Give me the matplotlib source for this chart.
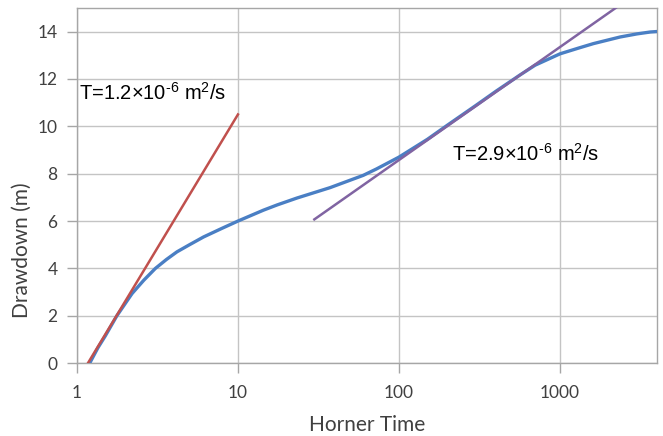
import matplotlib.pyplot as plt
from matplotlib.ticker import FixedLocator, NullLocator

plt.rcParams['mathtext.fontset'] = 'custom'
plt.rcParams['mathtext.rm'] = 'Liberation Sans'
plt.rcParams['mathtext.it'] = 'Liberation Sans'

# -------------------- data --------------------
horner_time = [1.2, 1.35, 1.5, 1.77, 2.2, 2.6, 3.07, 3.6, 4.18, 5.0, 6.12, 8.0, 10,
               14.4, 17.5, 23.2, 37.3, 60, 72.5, 100, 150, 200, 300, 400, 565,
               700, 1000, 1300, 1610, 2360, 3000, 3630, 4000]
drawdown = [0.0, 0.65, 1.15, 2.0, 2.94, 3.5, 4.0, 4.38, 4.7, 5.0, 5.33, 5.7, 6.0,
            6.46, 6.68, 6.97, 7.41, 7.93, 8.2, 8.7, 9.45, 10.05, 10.88, 11.48, 12.17,
            12.58, 13.06, 13.3, 13.49, 13.77, 13.9, 13.98, 14.0]

early_fit_x = [1.17, 10]
early_fit_y = [0.0, 10.5]
late_fit_x = [29.8, 2220]
late_fit_y = [6.07, 15.0]

x_ticks = [1, 10, 100, 1000]
x_tick_labels = ['1', '10', '100', '1000']
y_ticks = [0, 2, 4, 6, 8, 10, 12, 14]
# ----------------------------------------------------------------------

fig = plt.figure(figsize=(6.63, 4.36), dpi=100)
ax = fig.add_axes([0.116, 0.167, 0.875, 0.815])

ax.plot(horner_time, drawdown, color='#4a7fc4', lw=2.4, zorder=3)
ax.plot(early_fit_x, early_fit_y, color='#c0504d', lw=1.8, zorder=4)
ax.plot(late_fit_x, late_fit_y, color='#8064a2', lw=1.8, zorder=4)

ax.set_xscale('log')
ax.set_xlim(1, 4000)
ax.set_ylim(0, 15)
ax.xaxis.set_major_locator(FixedLocator(x_ticks))
ax.xaxis.set_minor_locator(NullLocator())
ax.set_xticklabels(x_tick_labels)
ax.set_yticks(y_ticks)

ax.grid(True, color='#c4c4c4', lw=1.0)
ax.set_axisbelow(True)
for s in ax.spines.values():
    s.set_color('#a6a6a6')
    s.set_linewidth(1.0)
ax.tick_params(axis='both', color='#a6a6a6', length=7, width=1.0,
               labelsize=12.5, labelcolor='#404040')
ax.tick_params(axis='x', pad=9)
ax.tick_params(axis='y', pad=7)
for lab in ax.get_xticklabels() + ax.get_yticklabels():
    lab.set_family('Lato')

ax.set_xlabel('Horner Time', fontsize=15, color='#404040', family='Lato')
ax.set_ylabel('Drawdown (m)', fontsize=15, color='#404040', family='Lato')
ax.xaxis.set_label_coords(0.5, -0.175)
ax.yaxis.set_label_coords(-0.095, 0.318)
ax.xaxis.label.set_va('center')
ax.yaxis.label.set_va('center')

ax.text(1.03, 11.4, r'T=1.2$\times$10$^{\text{-6}}$ m$^{\text{2}}$/s', fontsize=14.5,
        family='Liberation Sans', va='center', ha='left')
ax.text(213, 8.85, r'T=2.9$\times$10$^{\text{-6}}$ m$^{\text{2}}$/s', fontsize=14.5,
        family='Liberation Sans', va='center', ha='left')

fig.savefig('out.png', dpi=100)
